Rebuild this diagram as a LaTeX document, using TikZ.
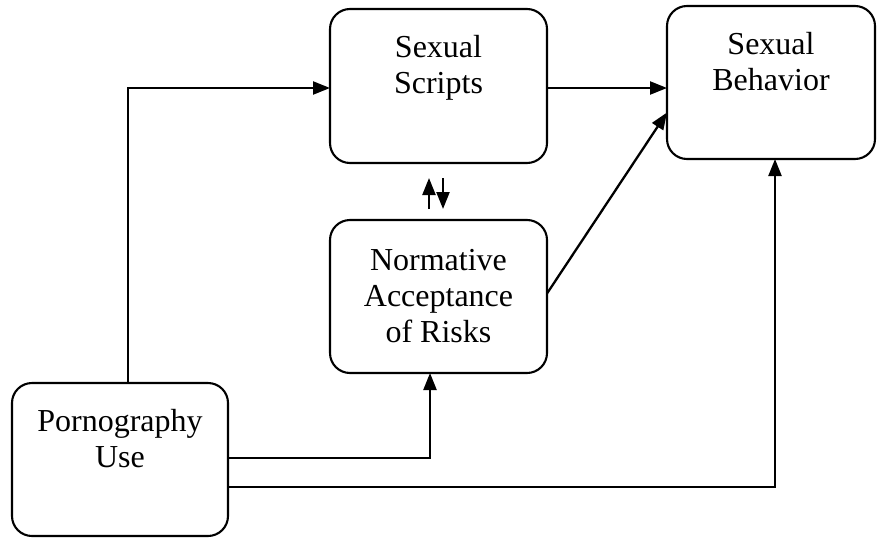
\documentclass[tikz,border=0pt]{standalone}
\usepackage{fontspec}
\setmainfont{Liberation Serif}
\usetikzlibrary{arrows.meta}

\tikzset{
  box/.style={draw, line width=2.1pt, rounded corners=20pt, inner sep=0pt, outer sep=0pt},
  lbl/.style={font=\fontsize{32}{36}\selectfont, align=center, inner sep=0pt},
  link/.style={line width=2.3pt, -{Triangle[length=17pt,width=13pt]}},
}

\begin{document}
\begin{tikzpicture}[x=1pt, y=-1pt]
  \useasboundingbox (0,0) rectangle (877,538);

  % boxes
  \node[box, minimum width=217pt, minimum height=154pt] (ss) at (438.5,86) {};
  \node[box, minimum width=208pt, minimum height=153pt] (sb) at (771,82.5) {};
  \node[box, lbl, minimum width=217pt, minimum height=153pt] (nr) at (438.5,296.5)
    {Normative\\Acceptance\\of Risks};
  \node[box, minimum width=216pt, minimum height=153pt] (pu) at (120,459.5) {};

  % box titles, set near the top edge
  \node[lbl, anchor=north] (ssT) at ([yshift=-26pt]ss.north) {Sexual\\Scripts};
  \node[lbl, anchor=north] (sbT) at ([yshift=-26pt]sb.north) {Sexual\\Behavior};
  \node[lbl, anchor=north] (puT) at ([yshift=-26pt]pu.north) {Pornography\\Use};

  % paths between boxes
  \draw[link] ([xshift=8pt]pu.north) |- ([yshift=-2pt]ss.west);
  \draw[link] ([yshift=-2pt]ss.east) -- ([yshift=-2pt]ss.east -| sb.west);
  \draw[link] ([yshift=3pt]nr.east) -- ([yshift=-30pt]sb.west);
  \draw[link] ([yshift=1.5pt]pu.east) -| ([xshift=-8.5pt]nr.south);
  \draw[link] ([yshift=-27.5pt]pu.east) -| ([xshift=4pt]sb.south);

  % reciprocal link between scripts and risk acceptance
  \coordinate (upA) at (429,209);
  \coordinate (upB) at (429,178);
  \coordinate (dnA) at (443,178);
  \coordinate (dnB) at (443,209);
  \draw[link] (upA) -- (upB);
  \draw[link] (dnA) -- (dnB);
\end{tikzpicture}
\end{document}
